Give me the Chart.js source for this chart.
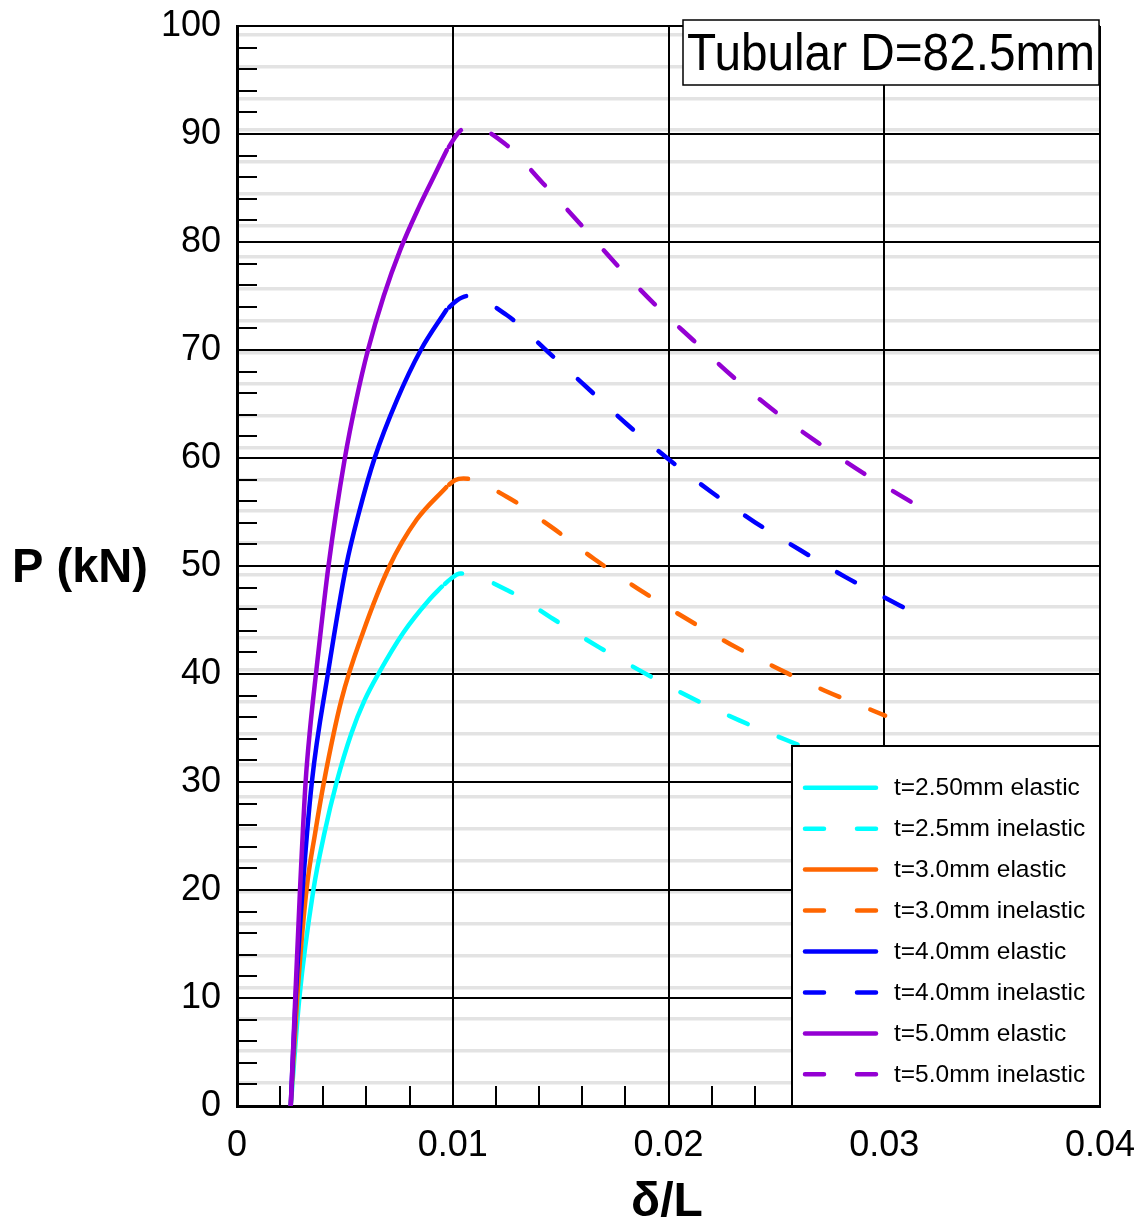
<!DOCTYPE html>
<html>
<head>
<meta charset="utf-8">
<script src="https://cdn.jsdelivr.net/npm/chart.js@4.4.0/dist/chart.umd.min.js"></script>
<style>
  body { margin: 0; background: #fff; }
  canvas { display: block; }
</style>
</head>
<body>
<canvas id="tubularChart" width="1145" height="1222"></canvas>
<script>
// x = delta/L, y = P (kN)
var t25ElasticX = [0.00249, 0.00289, 0.00354, 0.00405, 0.00462, 0.0053, 0.00592, 0.00655, 0.0077, 0.0089, 0.0095];
var t25ElasticP = [0, 10, 20, 25.25, 30, 34.5, 37.6, 40, 43.8, 46.85, 48.1];
var t25InelasticX = [0.0095, 0.0099, 0.01035, 0.01258, 0.01466, 0.01679, 0.01891, 0.0211, 0.02331, 0.02555, 0.0278, 0.030];
var t25InelasticP = [48.1, 48.8, 49.3, 47.71, 45.09, 42.47, 40.06, 37.75, 35.68, 33.82, 32.0, 30.3];

var t30ElasticX = [0.00249, 0.00279, 0.00322, 0.00362, 0.00403, 0.00484, 0.00583, 0.00707, 0.00833, 0.0097];
var t30ElasticP = [0, 10, 20, 25.25, 30, 37.6, 43.8, 50, 54.3, 57.3];
var t30InelasticX = [0.0097, 0.0101, 0.0105, 0.0125, 0.01455, 0.01656, 0.01863, 0.02072, 0.02285, 0.02504, 0.02725, 0.02949, 0.03004];
var t30InelasticP = [57.3, 57.95, 58.1, 56.42, 53.64, 50.65, 47.84, 45.25, 42.78, 40.53, 38.45, 36.6, 36.14];

var t40ElasticX = [0.00249, 0.00272, 0.00304, 0.00347, 0.00421, 0.00506, 0.00566, 0.00638, 0.00742, 0.00852, 0.0097];
var t40ElasticP = [0, 10, 20, 30, 40, 50, 55, 60, 65.4, 70, 73.7];
var t40InelasticX = [0.0097, 0.0102, 0.0107, 0.0125, 0.01435, 0.01621, 0.01806, 0.01999, 0.02197, 0.02401, 0.0261, 0.02823, 0.03039, 0.03088];
var t40InelasticP = [73.7, 74.6, 75.0, 73.24, 69.94, 66.55, 63.15, 59.91, 56.88, 54.05, 51.48, 48.95, 46.69, 46.18];

var t50ElasticX = [0.00249, 0.0027, 0.00292, 0.00318, 0.00339, 0.00366, 0.00424, 0.005, 0.00553, 0.00607, 0.0068, 0.00757, 0.00845, 0.00912, 0.00972];
var t50ElasticP = [0, 10, 20, 30, 35, 40, 50, 60, 65.4, 70, 75, 79.3, 83.3, 86.05, 88.5];
var t50InelasticX = [0.00972, 0.0103, 0.0108, 0.01242, 0.0142, 0.0159, 0.0176, 0.01933, 0.02115, 0.023, 0.02494, 0.02694, 0.02903, 0.03111, 0.0317];
var t50InelasticP = [88.5, 90.2, 90.75, 89.1, 85.4, 81.7, 77.9, 74.3, 70.9, 67.5, 64.3, 61.4, 58.6, 56.1, 55.4];

var seriesLabels = ['t=2.50mm elastic', 't=2.5mm inelastic', 't=3.0mm elastic', 't=3.0mm inelastic',
                    't=4.0mm elastic', 't=4.0mm inelastic', 't=5.0mm elastic', 't=5.0mm inelastic'];
var seriesX = [t25ElasticX, t25InelasticX, t30ElasticX, t30InelasticX, t40ElasticX, t40InelasticX, t50ElasticX, t50InelasticX];
var seriesP = [t25ElasticP, t25InelasticP, t30ElasticP, t30InelasticP, t40ElasticP, t40InelasticP, t50ElasticP, t50InelasticP];
var seriesColors = ['#00FFFF', '#00FFFF', '#FF6600', '#FF6600', '#0000FF', '#0000FF', '#9400D3', '#9400D3'];

var xTicks = [0, 0.01, 0.02, 0.03, 0.04];
var yTicks = [0, 10, 20, 30, 40, 50, 60, 70, 80, 90, 100];

var FONT = "'Liberation Sans', Arial, sans-serif";
var DASH = [20.5, 33.5];
var LINE_W = 4.5;

var datasets = [];
for (var i = 0; i < seriesLabels.length; i++) {
    var pts = seriesX[i].map(function (x, k) { return { x: x, y: seriesP[i][k] }; });
    datasets.push({
        label: seriesLabels[i],
        data: pts,
        borderColor: seriesColors[i],
        backgroundColor: seriesColors[i],
        borderWidth: LINE_W,
        borderDash: i % 2 ? DASH : [],
        borderDashOffset: i % 2 ? -4 : 0,
        borderCapStyle: 'round',
        borderJoinStyle: 'round',
        pointRadius: 0,
        cubicInterpolationMode: 'monotone',
        fill: false,
        order: -i
    });
}

// light grey lines behind the grid
var greyStart = 2.16, greyStep = 2.94;

function noPad(scale) {
    scale.paddingTop = 0; scale.paddingBottom = 0;
    scale.paddingLeft = 0; scale.paddingRight = 0;
}

var decor = {
    id: 'decor',
    beforeDatasetsDraw: function (chart) {
        var ctx = chart.ctx, xs = chart.scales.x, ys = chart.scales.y;
        var a = chart.chartArea;
        ctx.save();
        ctx.strokeStyle = '#000';
        ctx.lineWidth = 2;
        ctx.beginPath();
        for (var v = 2; v < 100; v += 2) {
            if (v % 10 === 0) continue;
            var py = Math.round(ys.getPixelForValue(v));
            ctx.moveTo(a.left, py); ctx.lineTo(a.left + 20, py);
        }
        for (var k = 1; k < 20; k++) {
            if (k % 5 === 0) continue;
            var px = Math.round(xs.getPixelForValue(k * 0.002));
            ctx.moveTo(px, a.bottom); ctx.lineTo(px, a.bottom - 20);
        }
        ctx.stroke();
        ctx.restore();
    },
    afterDraw: function (chart) {
        var ctx = chart.ctx;
        ctx.save();
        // title box
        ctx.fillStyle = '#fff';
        ctx.fillRect(683, 20, 416, 65);
        ctx.strokeStyle = '#000';
        ctx.lineWidth = 1.5;
        ctx.strokeRect(683, 20, 416, 65);
        ctx.fillStyle = '#000';
        ctx.font = '52px ' + FONT;
        ctx.textBaseline = 'alphabetic';
        ctx.textAlign = 'left';
        ctx.fillText('Tubular D=82.5mm', 687, 70, 408);

        // legend box
        ctx.fillStyle = '#fff';
        ctx.fillRect(792, 746, 308, 360);
        ctx.lineWidth = 2;
        ctx.strokeRect(792, 746, 308, 360);
        ctx.font = '24.5px ' + FONT;
        ctx.textBaseline = 'middle';
        chart.data.datasets.forEach(function (ds, i) {
            var y = 787.7 + i * 40.95;
            ctx.strokeStyle = ds.borderColor;
            ctx.lineWidth = LINE_W;
            ctx.lineCap = 'round';
            ctx.setLineDash(ds.borderDash.length ? [19, 33] : []);
            ctx.beginPath();
            ctx.moveTo(805, y); ctx.lineTo(876, y);
            ctx.stroke();
            ctx.setLineDash([]);
            ctx.fillStyle = '#000';
            ctx.fillText(ds.label, 894, y + 1);
        });

        // axis titles
        ctx.font = 'bold 48px ' + FONT;
        ctx.textAlign = 'left';
        ctx.textBaseline = 'alphabetic';
        ctx.fillText('P (kN)', 12, 582, 136);
        ctx.textAlign = 'center';
        ctx.fillText('\u03B4/L', 667, 1216);
        ctx.restore();
    }
};

var ctx = document.getElementById('tubularChart').getContext('2d');
var myChart = new Chart(ctx, {
    type: 'line',
    data: { datasets: datasets },
    options: {
        responsive: false,
        animation: false,
        devicePixelRatio: 1,
        layout: { padding: { top: 26, right: 45, left: 0, bottom: 0 } },
        plugins: { legend: { display: false }, tooltip: { enabled: false } },
        scales: {
            yg: {
                type: 'linear',
                position: 'right',
                min: 0, max: 100,
                afterBuildTicks: function (scale) {
                    var t = [];
                    for (var v = greyStart; v < 100; v += greyStep) t.push({ value: v });
                    scale.ticks = t;
                },
                afterFit: function (scale) { scale.width = 0; noPad(scale); },
                ticks: { display: false },
                grid: { color: '#e3e3e3', lineWidth: 3.5, drawTicks: false, z: -2 },
                border: { display: false }
            },
            x: {
                type: 'linear',
                min: 0, max: 0.04,
                afterBuildTicks: function (scale) {
                    scale.ticks = xTicks.map(function (v) { return { value: v }; });
                },
                afterFit: function (scale) { scale.height = 116; noPad(scale); },
                ticks: {
                    color: '#000',
                    padding: 18,
                    maxRotation: 0,
                    font: { family: FONT, size: 36 },
                    callback: function (v) { return v === 0 ? '0' : v.toFixed(2); }
                },
                grid: { color: '#000', lineWidth: 2, drawTicks: false },
                border: { color: '#000', width: 3 }
            },
            y: {
                type: 'linear',
                position: 'left',
                min: 0, max: 100,
                afterBuildTicks: function (scale) {
                    scale.ticks = yTicks.map(function (v) { return { value: v }; });
                },
                afterFit: function (scale) { scale.width = 237; noPad(scale); },
                ticks: {
                    color: '#000',
                    padding: 16,
                    font: { family: FONT, size: 36 }
                },
                grid: { color: '#000', lineWidth: 2, drawTicks: false },
                border: { color: '#000', width: 3 }
            }
        }
    },
    plugins: [decor]
});
</script>
</body>
</html>
